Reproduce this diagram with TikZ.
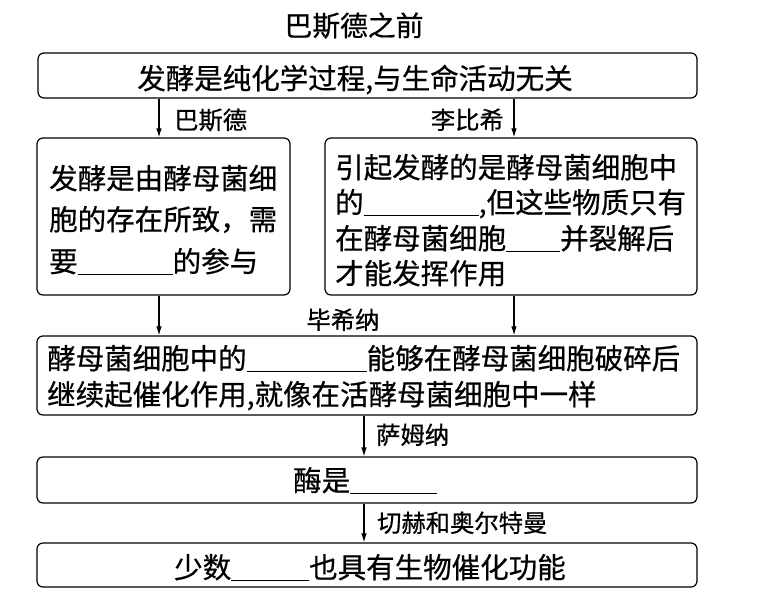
\documentclass[tikz,border=0pt]{standalone}
\usepackage{fontspec}
\setmainfont{Noto Sans CJK SC}[FakeBold=0.6]
\usetikzlibrary{arrows.meta}
\newcommand{\blank}[1]{\rule[-3pt]{#1}{0.9pt}}
\tikzset{
  box/.style={draw, line width=1.2pt, rounded corners=6pt, inner sep=0pt},
  txt/.style={inner sep=0pt, font=\fontsize{28.5}{34}\selectfont},
  lbl/.style={inner sep=0pt, font=\fontsize{24.3}{28}\selectfont},
  arr/.style={line width=1.1pt, -{Latex[length=9pt,width=5.5pt]}}
}
\begin{document}
\begin{tikzpicture}[x=1pt,y=-1pt]
\useasboundingbox (0,0) rectangle (768,614);
% boxes
\node[box, minimum width=659pt, minimum height=45pt] (b1) at (367.5,75.5) {};
\node[box, minimum width=253pt, minimum height=157pt] (b2) at (163.5,216.5) {};
\node[box, minimum width=372pt, minimum height=157pt] (b3) at (511,216.5) {};
\node[box, minimum width=660pt, minimum height=79pt] (b4) at (367,375.5) {};
\node[box, minimum width=660pt, minimum height=46pt] (b5) at (367,480) {};
\node[box, minimum width=660pt, minimum height=44pt] (b6) at (367,565) {};
% title
\node[inner sep=0pt, font=\fontsize{27.8}{32}\selectfont, anchor=base] (title) at (354,36) {巴斯德之前};
% box texts
\node[txt, anchor=base] (t1) at (355,89) {发酵是纯化学过程,与生命活动无关};
\node[txt, anchor=base west] (t2a) at (49,189) {发酵是由酵母菌细};
\node[txt, anchor=base west] (t2b) at (49,230) {胞的存在所致，需};
\node[txt, anchor=base west] (t2c) at (49,272) {要\blank{95pt}的参与};
\node[txt, anchor=base west] (t3a) at (335,178) {引起发酵的是酵母菌细胞中};
\node[txt, anchor=base west] (t3b) at (335,213) {的\blank{115pt},但这些物质只有};
\node[txt, anchor=base west] (t3c) at (335,249) {在酵母菌细胞\blank{54pt}并裂解后};
\node[txt, anchor=base west] (t3d) at (335,284) {才能发挥作用};
\node[txt, anchor=base west] (t4a) at (47,369) {酵母菌细胞中的\blank{120pt}能够在酵母菌细胞破碎后};
\node[txt, anchor=base west] (t4b) at (47,405) {继续起催化作用,就像在活酵母菌细胞中一样};
\node[txt, anchor=base west] (t5) at (293,491) {酶是\blank{87pt}};
\node[txt, anchor=base west] (t6) at (174,578) {少数\blank{78pt}也具有生物催化功能};
% arrow x positions
\coordinate (xl) at (159,0);
\coordinate (xr) at (514,0);
\coordinate (xm) at (364,0);
\draw[arr] (b1.south -| xl) -- (b2.north -| xl);
\draw[arr] (b1.south -| xr) -- (b3.north -| xr);
\draw[arr] (b2.south -| xl) -- (b4.north -| xl);
\draw[arr] (b3.south -| xr) -- (b4.north -| xr);
\draw[arr] (b4.south -| xm) -- (b5.north -| xm);
\draw[arr] (b5.south -| xm) -- (b6.north -| xm);
% labels
\node[lbl, anchor=base west] (l1) at (174,129) {巴斯德};
\node[lbl, anchor=base east] (l2) at (504,129) {李比希};
\node[lbl, anchor=base] (l3) at (343,329) {毕希纳};
\node[lbl, anchor=base west] (l4) at (376,444) {萨姆纳};
\node[lbl, anchor=base west] (l5) at (377,532) {切赫和奥尔特曼};
\end{tikzpicture}
\end{document}
